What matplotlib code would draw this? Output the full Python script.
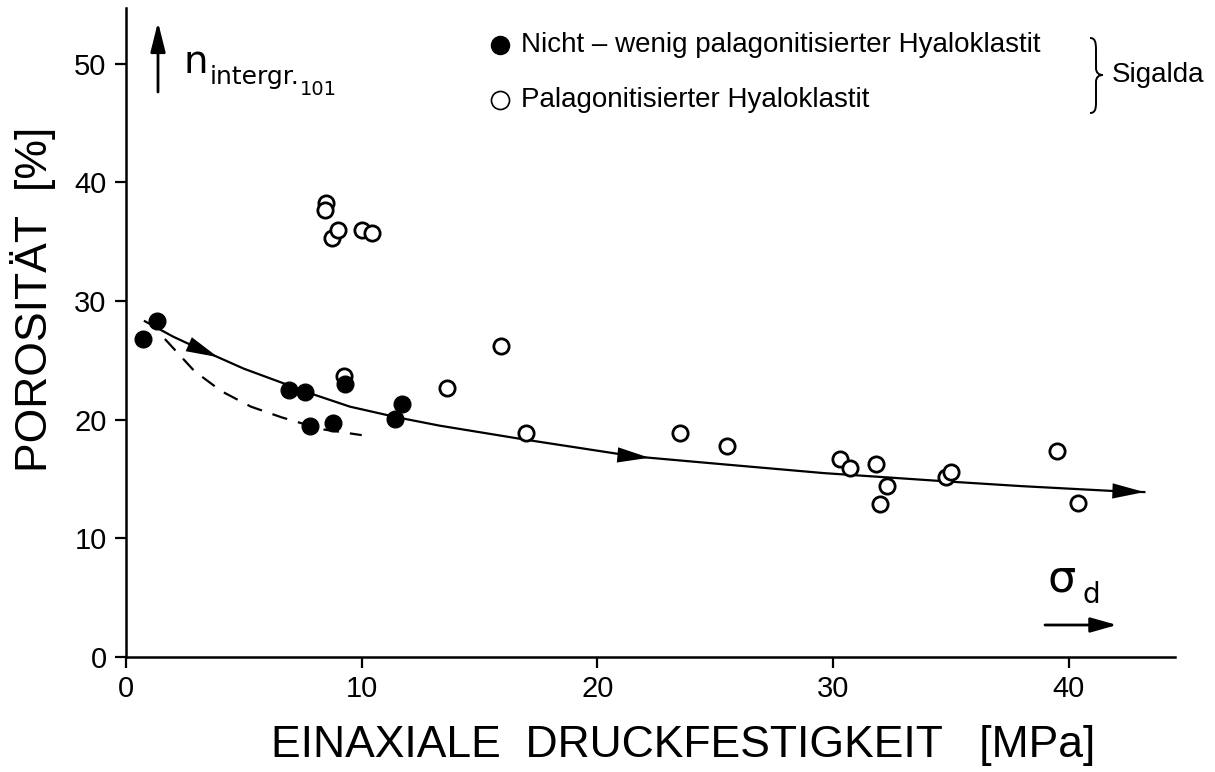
import matplotlib
matplotlib.use("Agg")
import matplotlib.pyplot as plt
import numpy as np
from matplotlib.path import Path
from matplotlib.patches import PathPatch, FancyArrowPatch

plt.rcParams['font.family'] = ['Liberation Sans', 'DejaVu Sans']

# ---- data ----
filled_x = [0.7, 1.3, 6.9, 7.6, 7.8, 8.8, 9.3, 11.4, 11.7]
filled_y = [26.8, 28.3, 22.5, 22.3, 19.5, 19.7, 23.0, 20.1, 21.3]

open_x = [8.5, 8.45, 8.75, 9.0, 10.0, 10.45, 9.25, 13.6, 15.9, 16.95, 23.5, 25.5,
          30.3, 30.7, 31.8, 32.3, 32.0, 34.8, 35.0, 39.5, 40.4]
open_y = [38.3, 37.7, 35.3, 36.0, 36.0, 35.7, 23.7, 22.7, 26.2, 18.9, 18.85, 17.8,
          16.7, 15.9, 16.3, 14.4, 12.9, 15.2, 15.6, 17.4, 13.0]

curve_x = [0.8, 2.0, 3.3, 5.0, 6.5, 8.0, 9.5, 11.5, 13.3, 17.0, 21.6, 25.0, 29.6,
           34.8, 38.0, 41.8, 43.2]
curve_y = [28.3, 27.0, 25.8, 24.3, 23.2, 22.1, 21.1, 20.2, 19.5, 18.3, 16.9, 16.3,
           15.5, 14.8, 14.4, 14.0, 13.9]

dash_x = [1.65, 2.9, 4.05, 5.3, 6.6, 8.3, 10.0]
dash_y = [26.8, 24.1, 22.4, 21.1, 20.2, 19.2, 18.7]

arrow_tips_x = [3.9, 22.2]

x_ticks = [0, 10, 20, 30, 40]
y_ticks = [0, 10, 20, 30, 40, 50]

label_filled = "Nicht – wenig palagonitisierter Hyaloklastit"
label_open = "Palagonitisierter Hyaloklastit"
xlabel = "EINAXIALE  DRUCKFESTIGKEIT   [MPa]"
ylabel = "POROSITÄT  [%]"

# ---- figure ----
W, H = 1215, 772
fig = plt.figure(figsize=(W / 100, H / 100), dpi=100)
def fx(px): return px / W
def fy(py): return 1 - py / H

ax = fig.add_axes([fx(126), fy(657), fx(1175) - fx(126), fy(8) - fy(657)])
ax.set_xlim(0, 44.5)
ax.set_ylim(0, 54.7)
for s in ['top', 'right']:
    ax.spines[s].set_visible(False)
for s in ['left', 'bottom']:
    ax.spines[s].set_linewidth(1.8)
ax.set_xticks(x_ticks)
ax.set_yticks(y_ticks)
ax.tick_params(direction='out', length=8, width=1.6, labelsize=21, pad=5)
ax.tick_params(axis='y', pad=6)

# curves
ax.plot(curve_x, curve_y, color='black', lw=1.6, zorder=2)
ax.plot(dash_x, dash_y, color='black', lw=1.6, ls=(0, (7, 5)), zorder=2)

def head(x0, y0, x1, y1, ms=10):
    ax.annotate('', xy=(x1, y1), xytext=(x0, y0),
                arrowprops=dict(arrowstyle='-|>,head_length=2.3,head_width=0.55',
                                mutation_scale=ms, color='black', lw=0,
                                shrinkA=0, shrinkB=0), zorder=3)

for tx in arrow_tips_x:
    ty = np.interp(tx, curve_x, curve_y)
    bx = tx - 0.6
    by = np.interp(bx, curve_x, curve_y)
    head(bx, by, tx, ty)
head(curve_x[-2], curve_y[-2], curve_x[-1], curve_y[-1])

# points
ax.plot(open_x, open_y, 'o', ms=11, mfc='white', mec='black', mew=2.0, ls='none', zorder=4)
ax.plot(filled_x, filled_y, 'o', ms=12, mfc='black', mec='black', ls='none', zorder=5)

# axis labels
fig.text(fx(33), fy(299), ylabel, rotation=90, ha='center', va='center', fontsize=32)
fig.text(fx(683), fy(745), xlabel, ha='center', va='center', fontsize=32)

# legend (manual)
fig.lines.append(plt.Line2D([fx(500)], [fy(45)], marker='o', ms=13, mfc='black',
                            mec='black', transform=fig.transFigure))
fig.lines.append(plt.Line2D([fx(500)], [fy(100)], marker='o', ms=13, mfc='white',
                            mec='black', mew=1.2, transform=fig.transFigure))
fig.text(fx(521), fy(45), label_filled, ha='left', va='center', fontsize=20)
fig.text(fx(521), fy(100), label_open, ha='left', va='center', fontsize=20)

# brace
bx0, bx1, bxm = 1090, 1103, 1096
pts = [(bx0, 38), (bxm - 1, 38), (bxm, 42), (bxm, 50),
       (bxm, 68),
       (bxm, 73), (bxm + 3, 75), (bx1, 75),
       (bxm + 3, 75), (bxm, 77), (bxm, 82),
       (bxm, 103),
       (bxm, 109), (bxm - 1, 113), (bx0, 113)]
codes = [Path.MOVETO, Path.CURVE4, Path.CURVE4, Path.CURVE4,
         Path.LINETO,
         Path.CURVE4, Path.CURVE4, Path.CURVE4,
         Path.CURVE4, Path.CURVE4, Path.CURVE4,
         Path.LINETO,
         Path.CURVE4, Path.CURVE4, Path.CURVE4]
brace = Path([(fx(a), fy(b)) for a, b in pts], codes)
fig.patches.append(PathPatch(brace, fill=False, lw=1.4, color='black',
                             transform=fig.transFigure))
fig.text(fx(1112), fy(75), "Sigalda", ha='left', va='center', fontsize=20)

# n_intergr. annotation
fig.patches.append(FancyArrowPatch(
    (fx(158), fy(92)), (fx(158), fy(22)), transform=fig.transFigure,
    arrowstyle='-|>,head_length=1.8,head_width=0.45', mutation_scale=10,
    color='black', lw=2.0, shrinkA=0, shrinkB=0))
fig.text(fx(183), fy(73), "n", ha='left', va='baseline', fontsize=28, family='DejaVu Sans')
fig.text(fx(210), fy(84), "intergr.", ha='left', va='baseline', fontsize=18, family='DejaVu Sans')
fig.text(fx(300), fy(95), "101", ha='left', va='baseline', fontsize=14, family='DejaVu Sans')

# sigma_d
fig.text(fx(1048), fy(592), "σ", ha='left', va='baseline', fontsize=32, family='DejaVu Sans')
fig.text(fx(1082), fy(603), "d", ha='left', va='baseline', fontsize=20, family='DejaVu Sans')
fig.patches.append(FancyArrowPatch(
    (fx(1045), fy(625)), (fx(1117), fy(625)), transform=fig.transFigure,
    arrowstyle='-|>,head_length=1.6,head_width=0.45', mutation_scale=10,
    color='black', lw=2.0, shrinkA=0, shrinkB=0))

fig.savefig("out.png", dpi=100)
